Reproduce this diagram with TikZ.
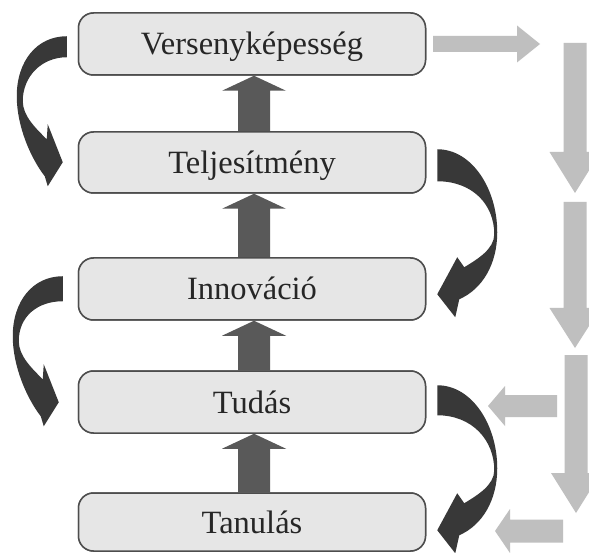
\documentclass[tikz,border=0pt]{standalone}
\usepackage{fontspec}
\setmainfont{Liberation Serif}
\newfontfamily\stagefont{Liberation Serif}
\usetikzlibrary{calc}

\definecolor{boxfill}{HTML}{E6E6E6}
\definecolor{boxline}{HTML}{4D4D4D}
\definecolor{upgray}{HTML}{595959}
\definecolor{benddark}{HTML}{383838}
\definecolor{flowgray}{HTML}{BFBFBF}

\tikzset{
  stage/.style={draw=boxline, line width=1.5pt, fill=boxfill,
    rounded corners=15pt, minimum width=347pt, minimum height=62pt,
    inner sep=0pt, font=\stagefont\fontsize{32.5}{36}\selectfont,
    text height=22pt, text depth=0pt, text=black!85},
  uparr/.style={fill=upgray},
  bendarr/.style={fill=benddark},
  flowarr/.style={fill=flowgray},
}

% thick block arrow from the top of box #1 up to the bottom of box #2
\newcommand\stepup[2]{%
  \fill[uparr] let \p1=(#1.north), \p2=(#2.south) in
    (\x1-14pt,\y1) -- (\x1+18pt,\y1) -- (\x1+18pt,\y2-15pt)
    -- (\x1+34pt,\y2-15pt) -- (\x1+2pt,\y2) -- (\x1-30pt,\y2-15pt)
    -- (\x1-14pt,\y2-15pt) -- cycle;}

% curved arrow bending out to the left; #1 start point, #2 tail thickness
\newcommand\bendleft[2]{%
  \begin{scope}[shift={(#1)}]
    \fill[bendarr] (0,0) .. controls (-30,0) and (-50,25) .. (-50,60)
      .. controls (-50,90) and (-36,122) .. (-22,140) -- (-19,150) -- (-4,126)
      -- (-19,88) -- (-20,103) .. controls (-30,93) and (-44,80) .. (-44,65)
      .. controls (-44,40) and (-25,#2) .. (0,#2) -- cycle;
  \end{scope}}

% curved arrow bending out to the right; #1 start point, #2 tail thickness
\newcommand\bendright[2]{%
  \begin{scope}[shift={(#1)}]
    \fill[bendarr] (0,0) .. controls (35,0) and (60,40) .. (60,83)
      .. controls (60,115) and (45,140) .. (22,150) -- (18,168) -- (0,145)
      -- (20,108) -- (27,118) .. controls (40,110) and (57,100) .. (57,85)
      .. controls (57,55) and (35,#2) .. (0,#2) -- cycle;
  \end{scope}}

% vertical flow arrow: x, y start, y tip, shaft half, head half, head length
\newcommand\flowdown[6]{%
  \fill[flowarr] ({#1-#4},#2) -- ({#1+#4},#2) -- ({#1+#4},{#3-#6})
    -- ({#1+#5},{#3-#6}) -- (#1,#3) -- ({#1-#5},{#3-#6})
    -- ({#1-#4},{#3-#6}) -- cycle;}

% horizontal flow arrow: y, x start, x tip, shaft half, head half, signed head length
\newcommand\flowside[6]{%
  \fill[flowarr] (#2,{#1-#4}) -- (#2,{#1+#4}) -- ({#3-#6},{#1+#4})
    -- ({#3-#6},{#1+#5}) -- (#3,#1) -- ({#3-#6},{#1-#5})
    -- ({#3-#6},{#1-#4}) -- cycle;}

\begin{document}
\begin{tikzpicture}[x=1pt,y=-1pt]
  \fill[white] (0,0) rectangle (589,553);
  \useasboundingbox (0,0) rectangle (589,553);

  % the five stages, top to bottom
  \path (252,44)  coordinate (pv)
        (252,162.5) coordinate (pt)
        (252,289) coordinate (pi)
        (252,402) coordinate (pd)
        (252,522) coordinate (pl);

  \node[stage] (vers)  at (pv) {};
  \node[stage, minimum height=61pt] (telj) at (pt) {};
  \node[stage] (innov) at (pi) {};
  \node[stage] (tudas) at (pd) {};
  \node[stage, minimum height=58pt] (tanul) at (pl) {};

  % upward block arrows between the stages
  \stepup{telj}{vers}
  \stepup{innov}{telj}
  \stepup{tudas}{innov}
  \stepup{tanul}{tudas}

  % redraw the stages over the arrow ends
  \node[stage] at (pv) {Versenyképesség};
  \node[stage, minimum height=61pt] at (pt) {Teljesítmény};
  \node[stage] at (pi) {Innováció};
  \node[stage] at (pd) {Tudás};
  \node[stage, minimum height=58pt] at (pl) {Tanulás};

  % curved feedback arrows
  \bendleft{[xshift=-11pt,yshift=-24pt]vers.north west}{21}
  \bendleft{[xshift=-15pt,yshift=-19pt]innov.north west}{25}
  \bendright{[xshift=11pt,yshift=-18pt]telj.north east}{32}
  \bendright{[xshift=11pt,yshift=-15pt]tudas.north east}{30}

  % light gray flow on the right
  \flowside{44}{433}{540}{8}{18.5}{23}
  \flowdown{575}{43}{193}{11.5}{25.5}{41}
  \flowdown{575}{202}{348}{11.5}{25.5}{40}
  \flowdown{576}{355}{513}{11.5}{25}{40}
  \flowside{406}{557}{488}{11}{20}{-17}
  \flowside{531}{563}{495}{11.5}{22}{-15}
\end{tikzpicture}
\end{document}
